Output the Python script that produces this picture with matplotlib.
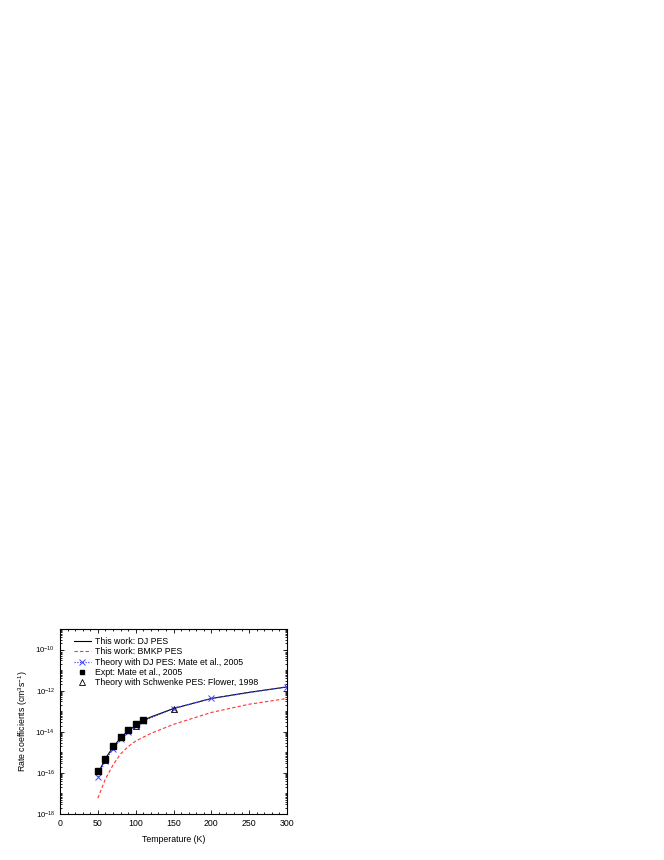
import numpy as np
import matplotlib
matplotlib.use('Agg')
import matplotlib.pyplot as plt
from matplotlib.ticker import LogLocator, MultipleLocator, FixedLocator, NullFormatter

plt.rcParams['font.family'] = ['Liberation Sans', 'DejaVu Sans']
plt.rcParams['mathtext.fontset'] = 'custom'
plt.rcParams['mathtext.rm'] = 'Liberation Sans'

# This work: DJ PES (log10 of rate coefficient)
T_dj = [50, 60, 70, 80, 90, 100, 110, 120, 150, 200, 250, 300]
log_dj = [-16.05, -15.3, -14.75, -14.3, -13.95, -13.7, -13.45, -13.28, -12.87, -12.38, -12.08, -11.82]

# This work: BMKP PES
T_bmkp = [50, 60, 70, 80, 90, 100, 120, 150, 200, 250, 300]
log_bmkp = [-17.23, -16.3, -15.62, -15.08, -14.72, -14.45, -14.08, -13.64, -13.06, -12.66, -12.38]

# Theory with DJ PES: Mate et al., 2005
T_mate = [50, 60, 70, 80, 90, 100, 110, 150, 200, 300]
log_mate = [-16.2, -15.4, -14.82, -14.37, -14.0, -13.72, -13.48, -12.87, -12.38, -11.81]

# Expt: Mate et al., 2005
T_exp = [50, 60, 70, 80, 90, 100, 110]
log_exp = [-15.93, -15.32, -14.70, -14.24, -13.93, -13.64, -13.44]

# Theory with Schwenke PES: Flower, 1998
T_flower = [60, 100, 150]
log_flower = [-15.35, -13.7, -12.87]

fig = plt.figure(figsize=(6.64, 8.6), dpi=100)
ax = fig.add_axes([60/664, 1 - 814/860, 227/664, 185/860])

ax.plot(T_dj, 10.0**np.array(log_dj), color='black', lw=0.8, label='This work: DJ PES')
ax.plot(T_bmkp, 10.0**np.array(log_bmkp), color='#ff3333', lw=0.8, ls=(0, (3, 2)),
        label='This work: BMKP PES')
ax.plot(T_mate, 10.0**np.array(log_mate), color='#4444ff', lw=0.9, ls=(0, (1, 1.2)),
        marker='x', ms=5, mew=0.7, label='Theory with DJ PES: Mate et al., 2005')
ax.plot(T_exp, 10.0**np.array(log_exp), ls='none', marker='s', ms=4.5, color='black',
        label='Expt: Mate et al., 2005')
ax.plot(T_flower, 10.0**np.array(log_flower), ls='none', marker='^', ms=5, mfc='none',
        mec='black', mew=0.6, label='Theory with Schwenke PES: Flower, 1998')

ax.set_yscale('log')
ax.set_xlim(0, 300)
ax.set_ylim(1e-18, 1e-9)
ax.xaxis.set_major_locator(MultipleLocator(50))
ax.xaxis.set_minor_locator(MultipleLocator(10))
ax.yaxis.set_major_locator(FixedLocator([1e-18, 1e-16, 1e-14, 1e-12, 1e-10]))
ax.yaxis.set_minor_locator(LogLocator(base=10, subs=np.arange(1, 10), numticks=30))
ax.yaxis.set_minor_formatter(NullFormatter())
ax.tick_params(which='both', direction='in', top=True, right=True, labelsize=6.3, width=0.6)
ax.tick_params(axis='y', labelsize=5.6)
ax.tick_params(which='major', length=3)
ax.tick_params(which='minor', length=1.5)
for s in ax.spines.values():
    s.set_linewidth(0.8)

ax.set_xlabel('Temperature (K)', fontsize=6.3, labelpad=5)
ax.set_ylabel('Rate coefficients (cm$^3$s$^{-1}$)', fontsize=6.3, labelpad=4)

ax.legend(loc='upper left', bbox_to_anchor=(0.045, 0.975), borderaxespad=0,
          fontsize=6.3, frameon=False, handlelength=2.0, handletextpad=0.4,
          labelspacing=0.15, markerscale=0.75)

fig.savefig('out.png', dpi=100)
